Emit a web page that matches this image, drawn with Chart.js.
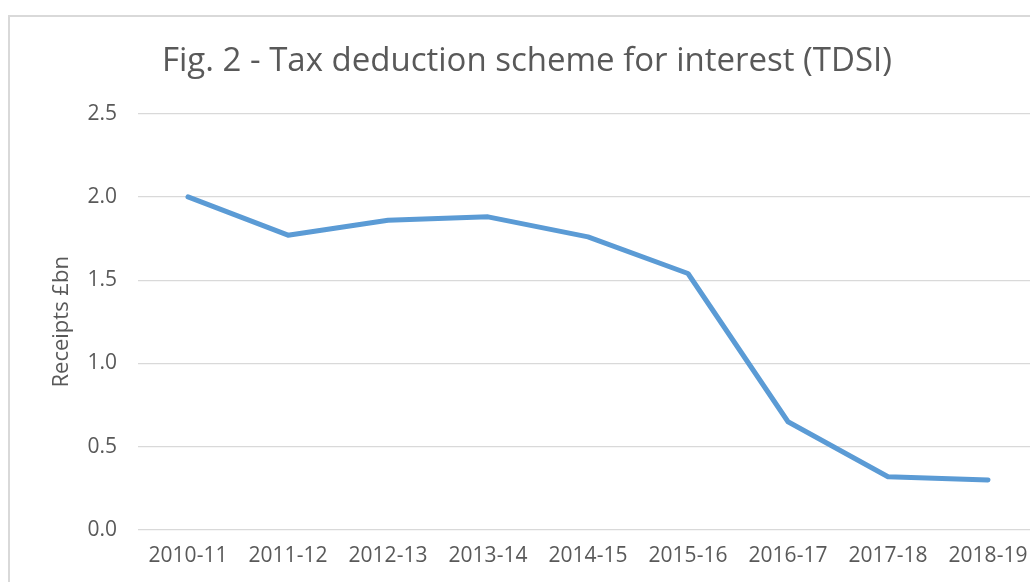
<!DOCTYPE html>
<html>
<head>
<meta charset="utf-8">
<script src="https://cdn.jsdelivr.net/npm/chart.js@4/dist/chart.umd.min.js"></script>
<style>
  html, body { margin: 0; padding: 0; background: #ffffff; overflow: hidden; width: 1030px; height: 582px; }
  #box { position: absolute; left: 8px; top: 15px; width: 1100px; height: 640px; border: 2px solid #d9d9d9; }
</style>
</head>
<body>
<div id="box"><canvas id="myChart" width="1060" height="600"></canvas></div>
<script>
const years = ['2010-11', '2011-12', '2012-13', '2013-14', '2014-15', '2015-16', '2016-17', '2017-18', '2018-19'];
const receipts = [2.0, 1.77, 1.86, 1.88, 1.76, 1.54, 0.65, 0.32, 0.30];
const yTicks = [0, 0.5, 1.0, 1.5, 2.0, 2.5];

const textColor = '#595959';
const fontFamily = '"Open Sans", "Noto Sans", sans-serif';

const ctx = document.getElementById('myChart');

new Chart(ctx, {
  type: 'line',
  data: {
    labels: years,
    datasets: [
      {
        label: 'Receipts',
        data: receipts,
        borderColor: '#5b9bd5',
        backgroundColor: '#5b9bd5',
        borderWidth: 5,
        borderCapStyle: 'round',
        borderJoinStyle: 'round',
        pointRadius: 0,
        tension: 0,
      },
    ],
  },
  options: {
    responsive: false,
    animation: false,
    layout: {
      padding: { left: 6, right: 32, top: 0, bottom: 0 },
    },
    plugins: {
      legend: { display: false },
      tooltip: { enabled: false },
      title: {
        display: true,
        text: 'Fig. 2 - Tax deduction scheme for interest (TDSI)',
        color: textColor,
        font: { family: fontFamily, size: 33, weight: 'normal' },
        padding: { top: 25, bottom: 32 },
      },
    },
    scales: {
      x: {
        offset: true,
        grid: { display: false, drawTicks: false },
        border: { display: false },
        ticks: {
          color: textColor,
          font: { family: fontFamily, size: 21 },
          padding: 13,
          maxRotation: 0,
        },
        afterFit: (scale) => { scale.height = 87; },
      },
      y: {
        min: 0,
        max: 2.5,
        afterBuildTicks: (scale) => { scale.ticks = yTicks.map(v => ({ value: v })); },
        grid: { color: '#d9d9d9', lineWidth: 1.3, drawTicks: false },
        border: { display: false },
        ticks: {
          color: textColor,
          font: { family: fontFamily, size: 21 },
          padding: 21,
          callback: (v) => Number(v).toFixed(1),
        },
        title: {
          display: true,
          text: 'Receipts £bn',
          color: textColor,
          font: { family: fontFamily, size: 22 },
          padding: { top: 33, bottom: 0 },
        },
        afterFit: (scale) => { scale.width = 122; },
      },
    },
  },
});
</script>
</body>
</html>
